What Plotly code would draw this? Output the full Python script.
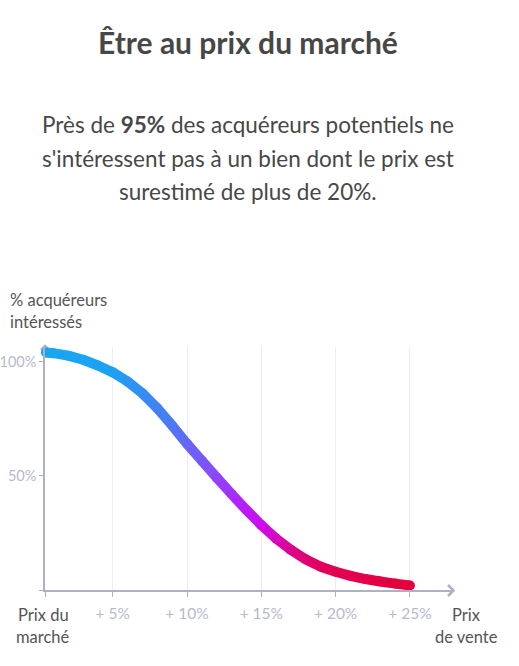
import plotly.graph_objects as go
from plotly.colors import sample_colorscale

# courbe : surcote du prix (%) -> acquéreurs intéressés (%)
X_PCT = [0.5, 1, 2, 3, 4, 5, 6, 7, 8, 9, 10, 11, 12, 13, 14, 15, 16, 17, 18, 19, 20, 21, 22, 23, 24, 25]
Y_PCT = [104, 103.7, 102.6, 100.8, 98.3, 95.3, 91.3, 86.1, 79.6, 72, 64, 56.6, 49.2, 42, 35, 28.4,
         22.5, 17.5, 13.4, 10.2, 8, 6.2, 4.8, 3.7, 2.8, 2]

X_TICKS = [5, 10, 15, 20, 25]
X_TICK_TEXT = ["+ 5%", "+ 10%", "+ 15%", "+ 20%", "+ 25%"]
Y_TICKS = [0, 50, 100]
Y_TICK_TEXT = ["", "50%", "100%"]

TITLE = "Être au prix du marché"
SUBTITLE = ["Près de <b>95%</b> des acquéreurs potentiels ne",
            "s'intéressent pas à un bien dont le prix est",
            "surestimé de plus de 20%."]
Y_LABEL = ["% acquéreurs", "intéressés"]
X_START_LABEL = ["Prix du", "marché"]
X_END_LABEL = ["Prix", "de vente"]

GRADIENT = [[0, "#17a7f0"], [0.18, "#1ca2f1"], [0.34, "#4b7bf4"], [0.46, "#8a49f8"],
            [0.54, "#b420fb"], [0.6, "#d10ae9"], [0.67, "#dc058c"], [0.76, "#e20058"],
            [1, "#e3003b"]]

W, H = 519, 666
L, R, T, B = 45, 66, 347, 76
X_RANGE = [0.44, 27.9]
Y_RANGE = [0, 106.4]

FONT = "Lato, 'Open Sans', sans-serif"
DARK = "#474747"
AXIS = "#aeb1c5"
TICK_FONT = "#b6bacd"


def px_x(px):
    return (px - L) / (W - L - R)


def px_y(py):
    return (H - B - py) / (H - T - B)


def grad_pos(x):
    return (x - X_PCT[0]) / (X_PCT[-1] - X_PCT[0])


fig = go.Figure()

# segments colorés un par un pour imiter le dégradé
for i in range(len(X_PCT) - 1):
    mid = (X_PCT[i] + X_PCT[i + 1]) / 2
    color = sample_colorscale(GRADIENT, [grad_pos(mid)])[0]
    fig.add_trace(go.Scatter(x=X_PCT[i:i + 2], y=Y_PCT[i:i + 2], mode="lines",
                             line=dict(color=color, width=10), hoverinfo="skip",
                             showlegend=False, cliponaxis=False))

# points ronds pour les jointures et les extrémités
fig.add_trace(go.Scatter(x=X_PCT, y=Y_PCT, mode="markers",
                         marker=dict(size=10, color=sample_colorscale(GRADIENT, [grad_pos(x) for x in X_PCT]),
                                     line=dict(width=0)),
                         hoverinfo="skip", showlegend=False, cliponaxis=False))

annotations = [dict(text="<b>" + TITLE + "</b>", x=px_x(248), y=px_y(42), xref="paper", yref="paper",
                    showarrow=False, xanchor="center", yanchor="middle",
                    font=dict(size=30, color=DARK, family=FONT))]
for k, line in enumerate(SUBTITLE):
    annotations.append(dict(text=line, x=px_x(248), y=px_y(125 + 33.5 * k), xref="paper", yref="paper",
                            showarrow=False, xanchor="center", yanchor="middle",
                            font=dict(size=22.5, color=DARK, family=FONT)))
for k, line in enumerate(Y_LABEL):
    annotations.append(dict(text=line, x=px_x(8), y=px_y(300 + 22 * k), xref="paper", yref="paper",
                            showarrow=False, xanchor="left", yanchor="middle",
                            font=dict(size=16.5, color="#555", family=FONT)))
for k, line in enumerate(X_START_LABEL):
    annotations.append(dict(text=line, x=px_x(43), y=px_y(615 + 22 * k), xref="paper", yref="paper",
                            showarrow=False, xanchor="center", yanchor="middle",
                            font=dict(size=16.5, color="#555", family=FONT)))
for k, line in enumerate(X_END_LABEL):
    annotations.append(dict(text=line, x=px_x(466), y=px_y(615 + 22 * k), xref="paper", yref="paper",
                            showarrow=False, xanchor="center", yanchor="middle",
                            font=dict(size=16.5, color="#555", family=FONT)))

# petites flèches au bout des axes
shapes = [
    dict(type="path", xref="paper", yref="paper", line=dict(color=AXIS, width=2.5),
         path="M %f %f L %f %f L %f %f" % (px_x(448), px_y(585), px_x(453.5), px_y(590.5), px_x(448), px_y(596))),
    dict(type="path", xref="paper", yref="paper", line=dict(color=AXIS, width=2.5), layer="below",
         path="M %f %f L %f %f L %f %f" % (px_x(41), px_y(350), px_x(45), px_y(346), px_x(49), px_y(350))),
]

fig.update_layout(
    width=W, height=H,
    margin=dict(l=L, r=R, t=T, b=B, autoexpand=False),
    paper_bgcolor="white", plot_bgcolor="white",
    font=dict(family=FONT),
    annotations=annotations,
    shapes=shapes,
    xaxis=dict(range=X_RANGE, tickvals=[X_RANGE[0]] + X_TICKS, ticktext=[""] + X_TICK_TEXT,
               showgrid=True, gridcolor="#ececf5", gridwidth=1, zeroline=False,
               showline=True, linecolor=AXIS, linewidth=1.5,
               ticks="outside", ticklen=5, tickcolor=AXIS, tickwidth=1, ticklabelstandoff=4,
               tickfont=dict(size=15.5, color=TICK_FONT, family=FONT), fixedrange=True),
    yaxis=dict(range=Y_RANGE, tickvals=Y_TICKS, ticktext=Y_TICK_TEXT,
               showgrid=False, zeroline=False,
               showline=True, linecolor=AXIS, linewidth=1.5,
               ticks="outside", ticklen=4, tickcolor=AXIS, tickwidth=1,
               tickfont=dict(size=14.5, color=TICK_FONT, family=FONT), fixedrange=True),
)

# le body html garde sa marge de 8px par défaut : on la supprime
fig.write_html("out.html", config={"displayModeBar": False},
               post_script="document.body.style.margin = '0';")
